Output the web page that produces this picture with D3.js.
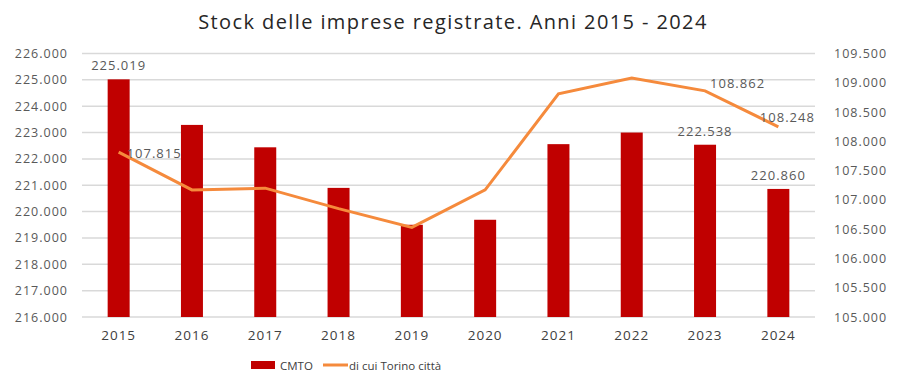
<!DOCTYPE html>
<html>
<head>
<meta charset="utf-8">
<script src="https://cdn.jsdelivr.net/npm/d3@7"></script>
<style>
body { margin: 0; background: #fff; }
text { font-family: "Open Sans", Lato, sans-serif; }
</style>
</head>
<body>
<div id="chart"></div>
<script>
var width = 900;
var height = 388;

var years = ["2015", "2016", "2017", "2018", "2019", "2020", "2021", "2022", "2023", "2024"];
var cmto = [225019, 223290, 222440, 220900, 219500, 219690, 222560, 223000, 222538, 220860];
var torino = [107815, 107170, 107200, 106850, 106530, 107170, 108810, 109080, 108862, 108248];
var leftTicks = [216000, 217000, 218000, 219000, 220000, 221000, 222000, 223000, 224000, 225000, 226000];
var rightTicks = [105000, 105500, 106000, 106500, 107000, 107500, 108000, 108500, 109000, 109500];

// italian style: dot as thousands separator, three digits shown like "225.019"
var fmt = d3.formatLocale({ decimal: ",", thousands: ".", grouping: [3], currency: ["", ""] }).format(",d");
function label(v) { return fmt(v); }

var svg = d3.select("#chart").append("svg")
    .attr("width", width)
    .attr("height", height);

var x = d3.scaleBand()
    .domain(years)
    .range([82, 815])
    .paddingInner(0.7)
    .paddingOuter(0.35);

var yLeft = d3.scaleLinear()
    .domain([216000, 226000])
    .range([317, 53.5]);

var yRight = d3.scaleLinear()
    .domain([105000, 109500])
    .range([317, 53.5]);

// title
svg.append("text")
    .attr("x", 453)
    .attr("y", 29)
    .attr("text-anchor", "middle")
    .attr("font-size", 20)
    .attr("letter-spacing", 1.4)
    .attr("fill", "#262626")
    .text("Stock delle imprese registrate. Anni 2015 - 2024");

// gridlines
svg.append("g").selectAll("line")
    .data(leftTicks)
    .enter()
    .append("line")
    .attr("x1", 82)
    .attr("x2", 815)
    .attr("y1", function(d) { return yLeft(d); })
    .attr("y2", function(d) { return yLeft(d); })
    .attr("stroke", "#d9d9d9")
    .attr("stroke-width", 1.5);

// left axis
var leftAxis = svg.append("g")
    .attr("transform", "translate(82,0)")
    .call(d3.axisLeft(yLeft).tickValues(leftTicks).tickSize(0).tickPadding(14).tickFormat(label));
leftAxis.select(".domain").remove();
leftAxis.selectAll("text").attr("font-size", 12.5).attr("letter-spacing", 1).attr("fill", "#595959").attr("font-family", "'Open Sans', sans-serif");

// right axis
var rightAxis = svg.append("g")
    .attr("transform", "translate(815,0)")
    .call(d3.axisRight(yRight).tickValues(rightTicks).tickSize(0).tickPadding(19).tickFormat(label));
rightAxis.select(".domain").remove();
rightAxis.selectAll("text").attr("font-size", 12.5).attr("letter-spacing", 1).attr("fill", "#595959").attr("font-family", "'Open Sans', sans-serif");

// x axis
var xAxis = svg.append("g")
    .attr("transform", "translate(0,317)")
    .call(d3.axisBottom(x).tickSize(0).tickPadding(13));
xAxis.select(".domain").remove();
xAxis.selectAll("text").attr("font-size", 13.5).attr("letter-spacing", 1).attr("fill", "#404040").attr("font-family", "'Open Sans', sans-serif");

// bars
svg.append("g").selectAll("rect")
    .data(cmto)
    .enter()
    .append("rect")
    .attr("x", function(d, i) { return x(years[i]); })
    .attr("y", function(d) { return yLeft(d); })
    .attr("width", x.bandwidth())
    .attr("height", function(d) { return 317 - yLeft(d); })
    .attr("fill", "#c00000");

// line
var line = d3.line()
    .x(function(d, i) { return x(years[i]) + x.bandwidth() / 2; })
    .y(function(d) { return yRight(d); });

svg.append("path")
    .datum(torino)
    .attr("d", line)
    .attr("fill", "none")
    .attr("stroke", "#f58a3c")
    .attr("stroke-width", 3);

// data labels
var barLabels = [0, 8, 9];
svg.append("g").selectAll("text")
    .data(barLabels)
    .enter()
    .append("text")
    .attr("x", function(i) { return x(years[i]) + x.bandwidth() / 2; })
    .attr("y", function(i) { return yLeft(cmto[i]) - 9; })
    .attr("text-anchor", "middle")
    .attr("font-size", 13)
    .attr("letter-spacing", 1)
    .attr("fill", "#595959")
    .text(function(i) { return label(cmto[i]); });

var lineLabels = [
    { i: 0, dx: 8, dy: 6, anchor: "start" },
    { i: 8, dx: 5, dy: -3, anchor: "start" },
    { i: 9, dx: 9, dy: -5, anchor: "middle" }
];
svg.append("g").selectAll("text")
    .data(lineLabels)
    .enter()
    .append("text")
    .attr("x", function(d) { return x(years[d.i]) + x.bandwidth() / 2 + d.dx; })
    .attr("y", function(d) { return yRight(torino[d.i]) + d.dy; })
    .attr("text-anchor", function(d) { return d.anchor; })
    .attr("font-size", 13)
    .attr("letter-spacing", 1)
    .attr("fill", "#595959")
    .text(function(d) { return label(torino[d.i]); });

// legend
var legend = svg.append("g");
legend.append("rect")
    .attr("x", 251).attr("y", 361)
    .attr("width", 24).attr("height", 8)
    .attr("fill", "#c00000");
legend.append("text")
    .attr("x", 280).attr("y", 369.5)
    .attr("font-size", 11.5).attr("fill", "#404040")
    .text("CMTO");
legend.append("line")
    .attr("x1", 323).attr("x2", 348)
    .attr("y1", 365).attr("y2", 365)
    .attr("stroke", "#f58a3c").attr("stroke-width", 3);
legend.append("text")
    .attr("x", 349).attr("y", 369.5)
    .attr("font-size", 11.5).attr("fill", "#404040")
    .text("di cui Torino città");
</script>
</body>
</html>
